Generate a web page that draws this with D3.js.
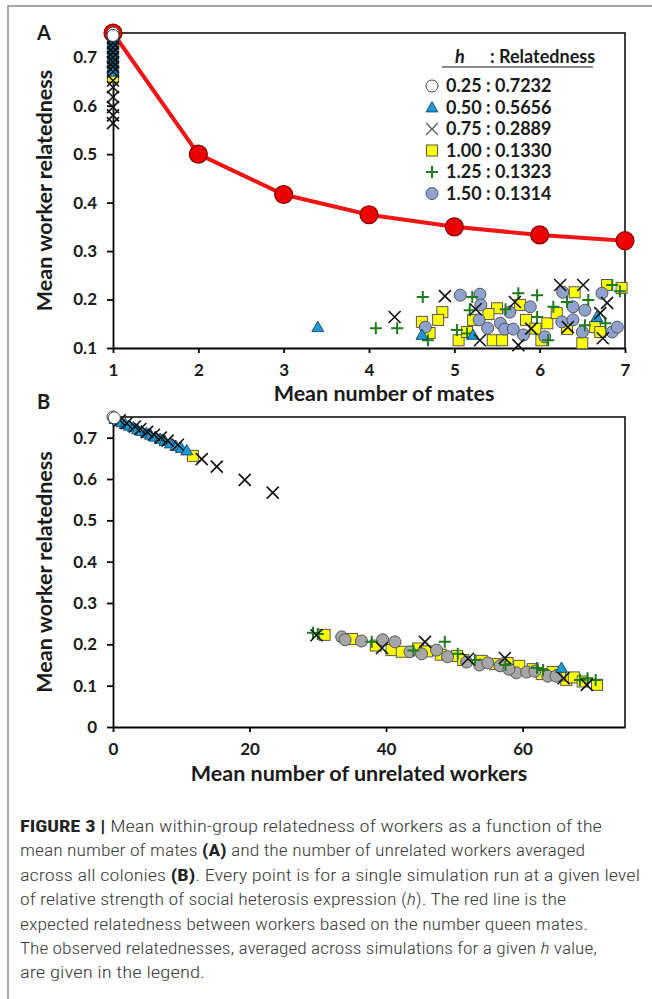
<!DOCTYPE html>
<html>
<head>
<meta charset="utf-8">
<script src="https://cdn.jsdelivr.net/npm/d3@7"></script>
<style>
  body { margin: 0; background: #fff; }
  svg text { font-family: Lato, "Open Sans", sans-serif; }
  .tick text { font-weight: 700; font-size: 17px; fill: #1a1a1a; }
  .axis path, .axis line { stroke: #000; stroke-width: 1.8; }
  .title { font-weight: 700; font-size: 21.5px; fill: #1a1a1a; }
  .caption { font-family: "Liberation Sans Narrow", "Roboto Condensed", Roboto, sans-serif !important; font-size: 17px; fill: #3a3a3a; }
</style>
</head>
<body>
<svg width="652" height="999"></svg>
<script>
// expected relatedness (red line), panel A
var expMates = [1, 2, 3, 4, 5, 6, 7];
var expRel = [0.75, 0.5, 0.4167, 0.375, 0.35, 0.3333, 0.3214];

// legend
var legendH = ["0.25", "0.50", "0.75", "1.00", "1.25", "1.50"];
var legendRel = ["0.7232", "0.5656", "0.2889", "0.1330", "0.1323", "0.1314"];
var legendMarks = ["open", "tri", "x", "sq", "plus", "dot"];

// panel A : [mean number of mates, relatedness]
var aOpen = [[1, 0.75], [1, 0.745]];
var aTri = [[1, 0.745], [1, 0.74], [1, 0.735], [1, 0.73], [1, 0.725], [1, 0.72], [1, 0.715], [1, 0.71],
    [1, 0.705], [1, 0.70], [1, 0.695], [1, 0.69], [1, 0.685], [1, 0.68], [1, 0.675], [1, 0.67],
    [3.40, 0.143], [4.62, 0.127], [5.22, 0.127], [6.67, 0.164]];
var aX = [[1, 0.74], [1, 0.73], [1, 0.72], [1, 0.71], [1, 0.70], [1, 0.69], [1, 0.68], [1, 0.67],
    [1, 0.652], [1, 0.638], [1, 0.618], [1, 0.597], [1, 0.580], [1, 0.564],
    [4.30, 0.164], [4.89, 0.207], [5.30, 0.116], [5.75, 0.106], [5.71, 0.195], [6.24, 0.230],
    [6.51, 0.230], [6.79, 0.193], [6.71, 0.172], [6.74, 0.120], [6.33, 0.143], [5.25, 0.180], [5.90, 0.140]];
var aSq = [[1, 0.66], [4.86, 0.174], [4.81, 0.158], [4.62, 0.154], [4.71, 0.131], [5.05, 0.116], [5.15, 0.133],
    [5.22, 0.158], [5.50, 0.182], [5.45, 0.116], [5.56, 0.116], [5.77, 0.189], [5.84, 0.158], [6.09, 0.151],
    [6.02, 0.116], [6.20, 0.172], [6.41, 0.215], [6.50, 0.110], [6.79, 0.230], [6.96, 0.224], [6.65, 0.143],
    [6.71, 0.133], [6.32, 0.139], [5.40, 0.170], [5.95, 0.140]];
var aPlus = [[4.08, 0.141], [4.33, 0.141], [4.63, 0.205], [5.21, 0.205], [4.69, 0.116], [5.03, 0.137],
    [5.18, 0.178], [5.75, 0.213], [5.97, 0.209], [5.97, 0.164], [6.10, 0.116], [6.16, 0.185], [6.32, 0.195],
    [6.57, 0.199], [6.85, 0.230], [6.94, 0.217], [6.77, 0.151], [6.53, 0.147], [5.15, 0.130], [5.60, 0.180]];
var aDot = [[4.66, 0.143], [5.07, 0.209], [5.30, 0.211], [5.31, 0.189], [5.29, 0.158], [5.39, 0.141],
    [5.54, 0.151], [5.59, 0.139], [5.65, 0.174], [5.69, 0.139], [5.89, 0.185], [5.81, 0.127], [6.06, 0.123],
    [6.27, 0.215], [6.26, 0.154], [6.39, 0.185], [6.39, 0.158], [6.50, 0.133], [6.53, 0.178], [6.73, 0.213],
    [6.85, 0.133], [6.91, 0.143]];

// panel B : [mean number of unrelated workers, relatedness]
var bOpen = [[0, 0.75], [0.2, 0.748]];
var bTri = [[0.3, 0.745], [0.8, 0.741], [1.3, 0.737], [1.8, 0.733], [2.4, 0.729], [3.0, 0.725], [3.6, 0.720],
    [4.2, 0.716], [4.9, 0.711], [5.5, 0.707], [6.2, 0.702], [6.9, 0.697], [7.6, 0.692], [8.4, 0.686],
    [9.2, 0.680], [10.0, 0.675], [10.8, 0.669], [65.7, 0.143]];
var bX = [[1.0, 0.742], [2.0, 0.735], [3.2, 0.727], [4.0, 0.721], [5.0, 0.714], [6.0, 0.707], [7.0, 0.700],
    [8.0, 0.693], [9.5, 0.683], [13.0, 0.648], [15.2, 0.630], [19.3, 0.598], [23.4, 0.567],
    [39.4, 0.191], [45.7, 0.206], [57.4, 0.167], [69.4, 0.102], [29.8, 0.222], [52.0, 0.165], [66.0, 0.118]];
var bSq = [[11.7, 0.656], [31.0, 0.223], [35.0, 0.213], [40.8, 0.186], [42.3, 0.182], [44.7, 0.190],
    [46.0, 0.183], [50.4, 0.172], [51.3, 0.162], [54.0, 0.160], [57.8, 0.155], [59.5, 0.148], [61.5, 0.140],
    [64.4, 0.133], [66.4, 0.114], [67.5, 0.120], [68.8, 0.110], [70.9, 0.102], [38.5, 0.197], [48.0, 0.175],
    [56.0, 0.152], [62.8, 0.128], [65.5, 0.125]];
var bPlus = [[29.3, 0.228], [37.9, 0.206], [48.6, 0.206], [50.5, 0.177], [53.0, 0.162], [62.1, 0.143],
    [68.4, 0.114], [70.7, 0.114], [44.0, 0.185], [57.5, 0.150], [63.0, 0.138], [69.5, 0.118], [30.0, 0.225]];
var bDot = [[33.5, 0.218], [34.0, 0.211], [36.4, 0.208], [39.5, 0.211], [41.3, 0.206], [43.5, 0.182],
    [45.2, 0.177], [47.4, 0.186], [49.0, 0.170], [51.8, 0.157], [53.7, 0.150], [54.9, 0.155], [56.7, 0.148],
    [59.1, 0.131], [60.6, 0.133], [63.7, 0.123], [64.9, 0.123], [58.0, 0.140], [61.8, 0.135]];

var aTicksY = [0.1, 0.2, 0.3, 0.4, 0.5, 0.6, 0.7];
var bTicksY = [0, 0.1, 0.2, 0.3, 0.4, 0.5, 0.6, 0.7];
var bTicksX = [0, 20, 40, 60];

var captionLines = [
    [["FIGURE 3 | ", "b"], ["Mean within-group relatedness of workers as a function of the", ""]],
    [["mean number of mates ", ""], ["(A)", "b"], [" and the number of unrelated workers averaged", ""]],
    [["across all colonies ", ""], ["(B)", "b"], [". Every point is for a single simulation run at a given level", ""]],
    [["of relative strength of social heterosis expression (", ""], ["h", "i"], ["). The red line is the", ""]],
    [["expected relatedness between workers based on the number queen mates.", ""]],
    [["The observed relatednesses, averaged across simulations for a given ", ""], ["h", "i"], [" value,", ""]],
    [["are given in the legend.", ""]]
];
var captionWidths = [582, 565, 620, 546, 568, 577, 185];

var svg = d3.select("svg");

// page frame
svg.append("path")
    .attr("d", "M652,6H8V999")
    .attr("fill", "none")
    .attr("stroke", "#8a8a8a")
    .attr("stroke-width", 1.5);

function drawMark(g, type, cx, cy, panel) {
    if (type === "open") {
        g.append("circle").attr("cx", cx).attr("cy", cy).attr("r", 6)
            .attr("fill", "#fff").attr("stroke", "#444").attr("stroke-width", 1);
    } else if (type === "tri") {
        g.append("path").attr("d", d3.symbol(d3.symbolTriangle, 62)())
            .attr("transform", "translate(" + cx + "," + (cy + 1) + ")")
            .attr("fill", "#1c9ad8").attr("stroke", "#0d3550").attr("stroke-width", 0.8);
    } else if (type === "x") {
        g.append("path").attr("d", "M-6,-6L6,6M-6,6L6,-6")
            .attr("transform", "translate(" + cx + "," + cy + ")")
            .attr("stroke", panel === "L" ? "#555" : "#111")
            .attr("stroke-width", panel === "L" ? 1.2 : 1.6);
    } else if (type === "sq") {
        g.append("rect").attr("x", cx - 5.5).attr("y", cy - 5.5).attr("width", 11).attr("height", 11)
            .attr("fill", "#ffff00").attr("stroke", "#555").attr("stroke-width", 1);
    } else if (type === "plus") {
        g.append("path").attr("d", "M-6,0H6M0,-6V6")
            .attr("transform", "translate(" + cx + "," + cy + ")")
            .attr("stroke", "#1d7a1d").attr("stroke-width", 2);
    } else if (type === "dot") {
        g.append("circle").attr("cx", cx).attr("cy", cy).attr("r", 6)
            .attr("fill", panel === "B" ? "#a6a6a6" : "#8fa2cf")
            .attr("stroke", "#555").attr("stroke-width", 1);
    }
}

function drawPanel(cfg) {
    var x = d3.scaleLinear().domain(cfg.xDomain).range([113, 625]);
    var y = d3.scaleLinear().domain(cfg.yDomain).range(cfg.yRange);
    var g = svg.append("g");

    // top and right frame
    g.append("path")
        .attr("d", "M" + x.range()[0] + "," + y.range()[1] + "H" + x.range()[1] + "V" + y.range()[0])
        .attr("fill", "none").attr("stroke", "#000").attr("stroke-width", 1.5);

    g.append("g").attr("class", "axis")
        .attr("transform", "translate(0," + y.range()[0] + ")")
        .call(d3.axisBottom(x).tickValues(cfg.xTicks).tickSize(5).tickSizeOuter(0).tickPadding(11)
            .tickFormat(d3.format("d")));
    g.append("g").attr("class", "axis")
        .attr("transform", "translate(113,0)")
        .call(d3.axisLeft(y).tickValues(cfg.yTicks).tickSize(6).tickSizeOuter(0).tickPadding(10)
            .tickFormat(function (d) { return d === 0 ? "0" : d.toFixed(1); }));

    if (cfg.line) {
        var line = d3.line().x(function (d, i) { return x(expMates[i]); }).y(function (d) { return y(d); });
        g.append("path").datum(expRel).attr("d", line)
            .attr("fill", "none").attr("stroke", "#ee1515").attr("stroke-width", 4);
        g.selectAll("circle.exp").data(expRel).enter().append("circle")
            .attr("class", "exp")
            .attr("cx", function (d, i) { return x(expMates[i]); })
            .attr("cy", function (d) { return y(d); })
            .attr("r", 9)
            .attr("fill", "#ee0000").attr("stroke", "#7a0000").attr("stroke-width", 1.2);
    }

    cfg.series.forEach(function (s) {
        var sg = g.append("g");
        s[1].forEach(function (p) {
            drawMark(sg, s[0], x(p[0]), y(p[1]), cfg.name);
        });
    });

    g.append("text").attr("class", "title").attr("x", 37).attr("y", cfg.letterY)
        .style("font-size", "20px").text(cfg.name);
    g.append("text").attr("class", "title").attr("text-anchor", "middle")
        .attr("x", cfg.xTitleX).attr("y", cfg.xTitleY).text(cfg.xTitle);
    g.append("text").attr("class", "title").attr("text-anchor", "middle")
        .attr("transform", "translate(52," + ((y.range()[0] + y.range()[1]) / 2) + ") rotate(-90)")
        .text("Mean worker relatedness");
}

drawPanel({
    name: "A", xDomain: [1, 7], yDomain: [0.1, 0.75], yRange: [348, 33],
    xTicks: expMates, yTicks: aTicksY, line: true,
    letterY: 40, xTitle: "Mean number of mates", xTitleX: 384, xTitleY: 401,
    series: [["sq", aSq], ["dot", aDot], ["plus", aPlus], ["tri", aTri], ["x", aX], ["open", aOpen]]
});

drawPanel({
    name: "B", xDomain: [0, 75], yDomain: [0, 0.75], yRange: [727, 417],
    xTicks: bTicksX, yTicks: bTicksY, line: false,
    letterY: 409, xTitle: "Mean number of unrelated workers", xTitleX: 359, xTitleY: 781,
    series: [["sq", bSq], ["dot", bDot], ["plus", bPlus], ["tri", bTri], ["x", bX], ["open", bOpen]]
});

// legend
var leg = svg.append("g");
var legTitle = leg.append("text").attr("x", 455).attr("y", 63)
    .style("font-weight", 700).style("font-size", "18px").attr("fill", "#1a1a1a");
legTitle.append("tspan").style("font-style", "italic").text("h");
legTitle.append("tspan").attr("x", 490).text(": Relatedness");
leg.append("line").attr("x1", 442).attr("x2", 593).attr("y1", 67).attr("y2", 67)
    .attr("stroke", "#666").attr("stroke-width", 1.5);
legendH.forEach(function (h, i) {
    var cy = 86 + i * 21.5;
    drawMark(leg, legendMarks[i], 432, cy, "L");
    leg.append("text").attr("x", 446).attr("y", cy + 6)
        .style("font-weight", 700).style("font-size", "18px").attr("fill", "#1a1a1a")
        .text(h + " : " + legendRel[i]);
});

// caption
captionLines.forEach(function (parts, i) {
    var t = svg.append("text").attr("class", "caption")
        .attr("x", 20).attr("y", 832 + i * 24.4)
        .attr("textLength", captionWidths[i]).attr("lengthAdjust", "spacingAndGlyphs");
    parts.forEach(function (p) {
        var ts = t.append("tspan").text(p[0]);
        if (p[1] === "b") ts.style("font-weight", 700).attr("fill", "#222");
        else ts.style("font-weight", 300);
        if (p[1] === "i") ts.style("font-style", "italic");
    });
});
</script>
</body>
</html>
